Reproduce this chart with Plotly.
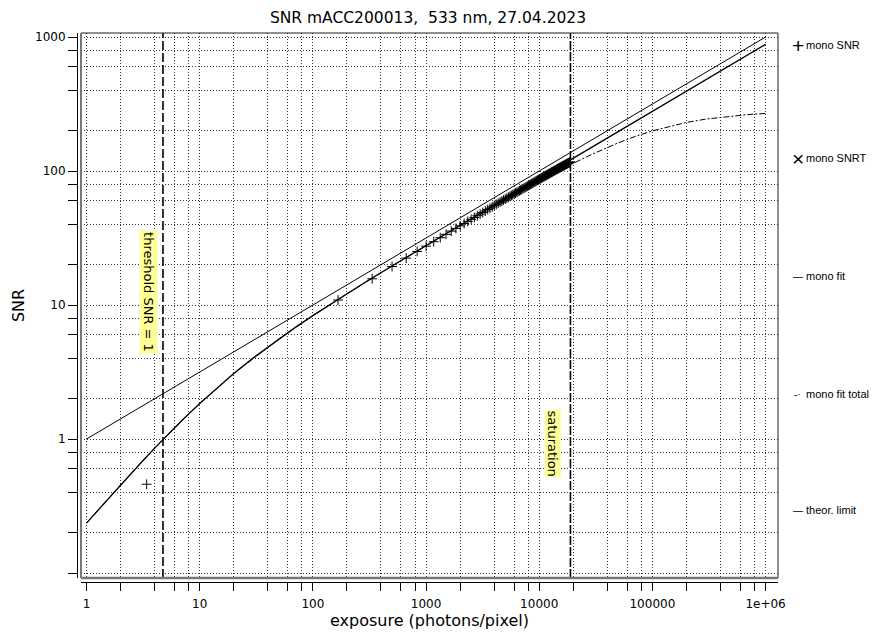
import math
import plotly.graph_objects as go

# ---------------- data ----------------
snr_exposure = [3.4,
    167, 334, 501, 668, 835, 1002, 1169, 1336, 1503, 1670,
    1837, 2004, 2171, 2338, 2505, 2672, 2839, 3006, 3173, 3340,
    3507, 3674, 3841, 4008, 4175, 4342, 4509, 4676, 4843, 5010,
    5177, 5344, 5511, 5678, 5845, 6012, 6179, 6346, 6513, 6680,
    6847, 7014, 7181, 7348, 7515, 7682, 7849, 8016, 8183, 8350,
    8517, 8684, 8851, 9018, 9185, 9352, 9519, 9686, 9853, 10020,
    10187, 10354, 10521, 10688, 10855, 11022, 11189, 11356, 11523, 11690,
    11857, 12024, 12191, 12358, 12525, 12692, 12859, 13026, 13193, 13360,
    13527, 13694, 13861, 14028, 14195, 14362, 14529, 14696, 14863, 15030,
    15197, 15364, 15531, 15698, 15865, 16032, 16199, 16366, 16533, 16700,
    16867, 17034, 17201, 17368, 17535, 17702, 17869, 18036, 18203, 18370,
    18537, 18704, 18871]
snr_values = [0.46,
    10.9, 15.7, 19.4, 22.4, 25.1, 27.5, 29.7, 31.8, 33.7, 35.6,
    37.3, 39.0, 40.6, 42.1, 43.6, 45.0, 46.4, 47.7, 49.0, 50.3,
    51.6, 52.8, 54.0, 55.2, 56.4, 57.5, 58.6, 59.7, 60.7, 61.7,
    62.7, 63.7, 64.7, 65.7, 66.6, 67.6, 68.5, 69.4, 70.3, 71.2,
    72.1, 72.9, 73.8, 74.6, 75.4, 76.2, 77.1, 77.9, 78.6, 79.4,
    80.2, 80.9, 81.7, 82.5, 83.2, 84.0, 84.7, 85.4, 86.1, 86.8,
    87.5, 88.2, 88.9, 89.6, 90.2, 90.9, 91.6, 92.2, 92.8, 93.5,
    94.1, 94.8, 95.4, 96.0, 96.7, 97.3, 97.9, 98.5, 99.1, 99.7,
    100.2, 100.8, 101.4, 102.0, 102.6, 103.1, 103.7, 104.3, 104.8, 105.4,
    105.9, 106.5, 107.0, 107.5, 108.0, 108.6, 109.1, 109.6, 110.1, 110.6,
    111.1, 111.6, 112.1, 112.6, 113.1, 113.6, 114.1, 114.6, 115.1, 115.5,
    116.0, 116.4, 116.9]

snrt_exposure = []
snrt_values = []

fit_exposure = [1, 1.5, 2, 3, 4, 5, 7, 10, 15, 20, 30, 50, 70, 100, 150, 200,
                300, 500, 700, 1000, 2000, 5000, 10000, 100000, 1000000]
fit_values = [0.236, 0.347, 0.455, 0.660, 0.855, 1.040, 1.380, 1.840, 2.505, 3.080,
              4.050, 5.580, 6.810, 8.340, 10.42, 12.15, 15.03, 19.56, 23.22,
              27.80, 39.40, 62.30, 88.10, 278.6, 880.5]

total_exposure = [1, 2, 5, 10, 20, 50, 100, 200, 500, 1000, 2000, 5000, 10000,
                  20000, 30000, 50000, 70000, 100000, 150000, 200000, 300000,
                  500000, 700000, 1000000]
total_values = [0.236, 0.455, 1.040, 1.840, 3.080, 5.580, 8.340, 12.15, 19.54,
                27.67, 38.98, 60.80, 84.00, 114.2, 134.6, 162.3, 180.8, 199.4,
                218.5, 230.4, 244.4, 257.6, 263.9, 269.0]

theor_exposure = [1, 10, 100, 1000, 10000, 100000, 1000000]
theor_values = [1, 3.162, 10, 31.62, 100, 316.2, 1000]

threshold_exposure = 4.74
saturation_exposure = 18880

x_decade_labels = ["1", "10", "100", "1000", "10000", "100000", "1e+06"]
y_decade_labels = ["1", "10", "100", "1000"]

legend_labels = ["mono SNR", "mono SNRT", "mono fit", "mono fit total", "theor. limit"]
legend_glyphs = ["+", "\u00d7", "\u2014", "-\u00b7", "\u2014"]

title_text = "SNR mACC200013, \u00a0533 nm, 27.04.2023"

# ---------------- figure ----------------
X_RANGE = [-0.0486, 6.110]
Y_RANGE = [-1.037, 3.030]
FONT = "DejaVu Sans"
LFONT = "Liberation Sans"

OFF = 8                      # page offset of the figure (body margin)
W, H = 878 - OFF, 635 - OFF
ML, MR, MT, MB = 77 - OFF, 100, 33 - OFF, 53
PW, PH = W - ML - MR, H - MT - MB


def paper_x(page_px):
    return (page_px - OFF - ML) / PW


def paper_y(page_py):
    return (H - MB - (page_py - OFF)) / PH


fig = go.Figure()

fig.add_trace(go.Scatter(x=theor_exposure, y=theor_values, mode="lines",
                         line=dict(color="black", width=1), name="theor. limit",
                         showlegend=False))
fig.add_trace(go.Scatter(x=total_exposure, y=total_values, mode="lines",
                         line=dict(color="black", width=1, dash="6px,2px,2px,2px"),
                         name="mono fit total", showlegend=False))
fig.add_trace(go.Scatter(x=fit_exposure, y=fit_values, mode="lines",
                         line=dict(color="black", width=1.3), name="mono fit",
                         showlegend=False))
fig.add_trace(go.Scatter(x=snrt_exposure, y=snrt_values, mode="markers",
                         marker=dict(symbol="x-thin", size=8, color="black",
                                     line=dict(color="black", width=1)),
                         name="mono SNRT", showlegend=False))
fig.add_trace(go.Scatter(x=snr_exposure, y=snr_values, mode="markers",
                         marker=dict(symbol="cross-thin", size=7, color="black",
                                     line=dict(color="black", width=1)),
                         name="mono SNR", showlegend=False))

# vertical threshold / saturation lines spanning the frame
y_lo, y_hi = 10 ** Y_RANGE[0], 10 ** Y_RANGE[1]
fig.add_trace(go.Scatter(x=[threshold_exposure, threshold_exposure], y=[y_lo, y_hi],
                         mode="lines", line=dict(color="black", width=1.6, dash="9px,3px"),
                         showlegend=False, hoverinfo="skip"))
fig.add_trace(go.Scatter(x=[saturation_exposure, saturation_exposure], y=[y_lo, y_hi],
                         mode="lines", line=dict(color="black", width=1.6, dash="9px,2px"),
                         showlegend=False, hoverinfo="skip"))

# ticks: 1,2,4,6,8 per decade
mult = [1, 2, 4, 6, 8]
x_tickvals, x_ticktext = [], []
for d in range(0, 7):
    for m in mult:
        v = m * 10 ** d
        if v <= 10 ** X_RANGE[1]:
            x_tickvals.append(v)
            x_ticktext.append(x_decade_labels[d] if m == 1 else "")
y_tickvals, y_ticktext = [], []
for d in range(-1, 4):
    for m in mult:
        v = m * 10.0 ** d
        if 10 ** Y_RANGE[0] <= v <= 10 ** Y_RANGE[1]:
            y_tickvals.append(v)
            y_ticktext.append(y_decade_labels[d] if (m == 1 and d >= 0) else "")

GRID = dict(showgrid=True, gridcolor="#333", gridwidth=1, griddash="1px,2px")

fig.update_layout(
    width=W, height=H,
    margin=dict(l=ML, r=MR, t=MT, b=MB, autoexpand=False),
    paper_bgcolor="white", plot_bgcolor="white",
    font=dict(family=FONT, size=12, color="black"),
    title=dict(text=title_text, x=(428 - OFF) / W, xanchor="center",
               y=1 - (18 - OFF) / H, yanchor="middle",
               font=dict(family=FONT, size=15.5, color="black")),
    showlegend=False,
    xaxis=dict(type="log", range=X_RANGE, domain=[4 / PW, 1], anchor="free", position=0,
               showline=True, linecolor="black", linewidth=1,
               ticks="outside", ticklen=8, tickcolor="black", tickwidth=1,
               tickmode="array", tickvals=x_tickvals, ticktext=x_ticktext,
               tickfont=dict(family=FONT, size=12), ticklabelstandoff=3,
               zeroline=False, automargin=False,
               title=dict(text="exposure (photons/pixel)", standoff=2,
                          font=dict(family=FONT, size=16)),
               **GRID),
    yaxis=dict(type="log", range=Y_RANGE, domain=[4 / PH, 1], anchor="free", position=0,
               showline=True, linecolor="black", linewidth=1,
               ticks="outside", ticklen=9, tickcolor="black", tickwidth=1,
               tickmode="array", tickvals=y_tickvals, ticktext=y_ticktext,
               tickfont=dict(family=FONT, size=12),
               zeroline=False, automargin=False,
               title=dict(text="SNR", standoff=5, font=dict(family=FONT, size=16)),
               **GRID),
)

# plot frame
fig.add_shape(type="rect", xref="x domain", yref="y domain", x0=0, x1=1, y0=0, y1=1,
              line=dict(color="#222", width=1), layer="above")
fig.add_shape(type="line", xref="x domain", yref="y domain", x0=0, x1=1, y0=0, y1=0,
              line=dict(color="#777", width=2.5), layer="above")
fig.add_shape(type="line", xref="x domain", yref="y domain", x0=0, x1=0, y0=0, y1=1,
              line=dict(color="#777", width=2), layer="above")

# rotated labels next to the vertical lines
fig.add_annotation(x=math.log10(threshold_exposure), y=1.097, xref="x", yref="y",
                   text="threshold SNR = 1", textangle=90, showarrow=False,
                   xanchor="center", yanchor="middle", xshift=-14,
                   bgcolor="#ffff99", font=dict(family=FONT, size=13, color="black"),
                   borderpad=1)
fig.add_annotation(x=math.log10(saturation_exposure), y=-0.037, xref="x", yref="y",
                   text="saturation", textangle=90, showarrow=False,
                   xanchor="center", yanchor="middle", xshift=-18,
                   bgcolor="#ffff99", font=dict(family=FONT, size=13, color="black"),
                   borderpad=0)

# legend drawn at the right side
legend_py = [45, 158, 276, 394, 510]
glyph_sizes = [21, 21, 10, 10, 10]
for lab, gl, py, gs in zip(legend_labels, legend_glyphs, legend_py, glyph_sizes):
    fig.add_annotation(x=paper_x(798), y=paper_y(py), xref="paper", yref="paper",
                       text=gl, showarrow=False, xanchor="center", yanchor="middle",
                       font=dict(family=LFONT, size=gs, color="black"))
    fig.add_annotation(x=paper_x(804), y=paper_y(py), xref="paper", yref="paper",
                       text=lab, showarrow=False, xanchor="left", yanchor="middle",
                       font=dict(family=LFONT, size=11, color="black"))

fig.write_html("out.html")
